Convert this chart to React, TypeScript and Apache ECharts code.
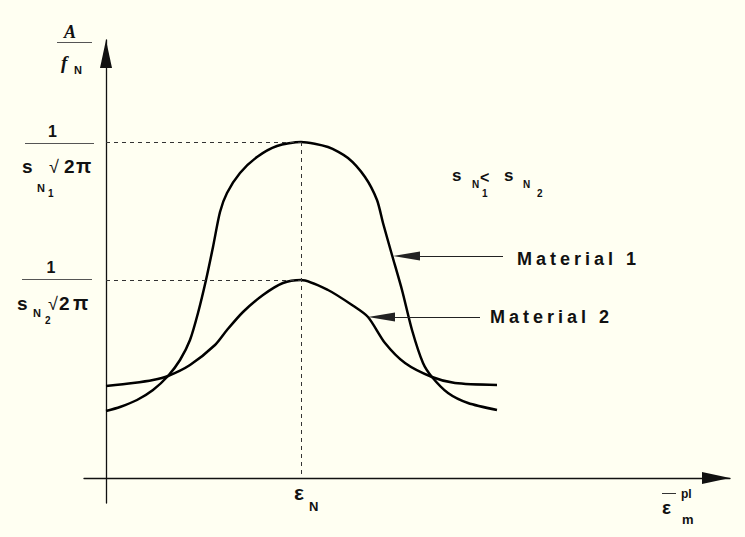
import React, { useEffect, useRef } from "react";
import * as echarts from "echarts";

// Material 1 curve (narrow distribution)
const material1X = [0, 1.4, 3.1, 4.7, 6.2, 7.4, 8.4, 9.2, 10.0, 10.7, 11.4, 12.1, 13.4, 15.1, 17.1, 19.5, 22.2, 24.2, 25.9, 27.1, 27.7, 28.6, 29.6, 30.6, 31.7, 32.6, 34.2, 36.2, 39.1];
const material1Y = [6.7, 7.1, 7.8, 8.8, 10.2, 11.8, 13.8, 16.5, 19.8, 23.1, 26.6, 28.5, 30.5, 32.1, 33.2, 33.6, 33.1, 32.0, 30.1, 27.8, 25.5, 22.3, 18.8, 14.8, 11.5, 10.1, 8.5, 7.5, 6.8];
// Material 2 curve (wide distribution)
const material2X = [0, 2.7, 4.7, 6.2, 8.4, 10.9, 12.1, 13.7, 15.7, 17.7, 19.5, 22.2, 24.6, 26.2, 27.9, 29.9, 32.6, 34.9, 39.1];
const material2Y = [9.2, 9.5, 9.8, 10.2, 11.3, 13.3, 14.8, 16.6, 18.3, 19.5, 19.8, 18.8, 17.3, 16.1, 13.5, 11.5, 10.1, 9.5, 9.3];

const peakStrain = 19.5;
const peakLevels = [33.6, 19.8];
const peakSubscripts = ["1", "2"];
const materialNames = ["Material 1", "Material 2"];
const arrowTipX = [28.7, 26.2];
const arrowTipY = [22.2, 16.1];
const arrowTailX = [39.7, 37.4];
const xRange = [-2.2, 62.4];
const yRange = [-2.5, 43.8];

const BG = "#fffff2";
const INK = "#111";
const SANS = '"Liberation Sans", Arial, Helvetica, sans-serif';
const SERIF = '"Liberation Serif", "Times New Roman", serif';

const zip = (xs: number[], ys: number[]) => xs.map((x, i) => [x, ys[i]]);

export default function App() {
  const ref = useRef<HTMLDivElement>(null);

  useEffect(() => {
    document.body.style.margin = "0";
    document.body.style.background = BG;
    const chart = echarts.init(ref.current as HTMLDivElement, null, { renderer: "svg" });

    const dashed = { type: [4, 4], color: "#333", width: 1 };
    const arrowLine = { type: "solid", color: "#222", width: 1 };
    const headSize = [9, 27];
    const headHalf = 1.35;

    const axisCommon = {
      type: "value",
      axisLine: {
        show: true,
        onZero: true,
        symbol: ["none", "triangle"],
        symbolSize: [12, 28],
        symbolOffset: [0, -14],
        lineStyle: { color: INK, width: 1.3 },
      },
      axisTick: { show: false },
      axisLabel: { show: false },
      splitLine: { show: false },
    };

    const seriesLine = (name: string, xs: number[], ys: number[], extraLines: any[]) => ({
      type: "line",
      name,
      data: zip(xs, ys),
      smooth: 0.25,
      symbol: "none",
      silent: true,
      lineStyle: { color: "#000", width: 2.5 },
      markLine: {
        silent: true,
        animation: false,
        symbol: ["none", "none"],
        label: { show: false },
        emphasis: { disabled: true },
        data: extraLines,
      },
    });

    const arrow = (i: number) => [
      { coord: [arrowTailX[i], arrowTipY[i]], lineStyle: arrowLine },
      { coord: [arrowTipX[i] + headHalf, arrowTipY[i]], symbol: "triangle", symbolSize: headSize },
    ];

    chart.setOption({
      animation: false,
      backgroundColor: BG,
      grid: { left: 84, right: 15, top: 40, bottom: 34, containLabel: false },
      xAxis: { ...axisCommon, min: xRange[0], max: xRange[1] },
      yAxis: { ...axisCommon, min: yRange[0], max: yRange[1] },
      series: [
        seriesLine(materialNames[0], material1X, material1Y, [
          [{ coord: [0, peakLevels[0]], lineStyle: dashed }, { coord: [peakStrain, peakLevels[0]] }],
          [{ coord: [peakStrain, peakLevels[0]], lineStyle: dashed }, { coord: [peakStrain, 0] }],
          arrow(0),
        ]),
        seriesLine(materialNames[1], material2X, material2Y, [
          [{ coord: [0, peakLevels[1]], lineStyle: dashed }, { coord: [peakStrain, peakLevels[1]] }],
          arrow(1),
        ]),
      ],
    });

    const toPx = (x: number, y: number) => chart.convertToPixel({ gridIndex: 0 }, [x, y]) as number[];
    const [A, Y0] = toPx(0, 0);
    const T = toPx(0, yRange[1])[1];
    const E = toPx(xRange[1], 0)[0];
    const X = toPx(peakStrain, 0)[0];

    const t = (text: string, x: number, base: number, size: number, o: any = {}) => ({
      type: "text",
      x,
      y: base - 0.35 * size,
      silent: true,
      style: {
        text,
        fontSize: size,
        fontWeight: o.weight ?? "bold",
        fontStyle: o.italic ? "italic" : "normal",
        fontFamily: o.family ?? SANS,
        fill: INK,
        align: o.align ?? "left",
        verticalAlign: "middle",
      },
    });
    const hl = (x1: number, x2: number, y: number, color = "#555") => ({
      type: "line",
      silent: true,
      shape: { x1, y1: Math.round(y) + 0.5, x2, y2: Math.round(y) + 0.5 },
      style: { stroke: color, lineWidth: 1 },
    });

    const fracLayout = [
      { one: [-53.5, -5], bar: [-81, -12, 1], s: [-84, 31], n: [-69, 50], sub: [-58, 55], root: [-57, 31], two: [-42, 31], pi: [-30, 31] },
      { one: [-55, -7], bar: [-84, -14, -1], s: [-89, 30], n: [-73, 37], sub: [-61, 44], root: [-58, 30], two: [-47, 30], pi: [-33, 30] },
    ];

    const elements: any[] = [];
    peakLevels.forEach((lvl, i) => {
      const P = toPx(0, lvl)[1];
      const L = fracLayout[i];
      elements.push(t("1", A + L.one[0], P + L.one[1], 16, { align: "center" }));
      elements.push(hl(A + L.bar[0], A + L.bar[1], P + L.bar[2]));
      elements.push(t("s", A + L.s[0], P + L.s[1], 19));
      elements.push(t("N", A + L.n[0], P + L.n[1], 11));
      elements.push(t(peakSubscripts[i], A + L.sub[0], P + L.sub[1], 10));
      elements.push(t("√", A + L.root[0], P + L.root[1], 18, { weight: "normal" }));
      elements.push(t("2", A + L.two[0], P + L.two[1], 19));
      elements.push(t("π", A + L.pi[0], P + L.pi[1], 20));
    });

    // A / f_N
    elements.push(t("A", A - 36, T - 2, 18, { family: SERIF, italic: true, align: "center" }));
    elements.push(hl(A - 49, A - 14, T + 2));
    elements.push(t("f", A - 45, T + 29, 19, { family: SERIF, italic: true }));
    elements.push(t("N", A - 32, T + 34, 11));

    // epsilon_N
    elements.push(t("ε", X - 7, Y0 + 22, 21));
    elements.push(t("N", X + 8, Y0 + 33, 13));

    // epsilon_m^pl with bar
    elements.push(hl(E - 68, E - 54, Y0 + 15, "#333"));
    elements.push(t("pl", E - 49, Y0 + 20, 12));
    elements.push(t("ε", E - 68, Y0 + 36, 19));
    elements.push(t("m", E - 48, Y0 + 46, 13));

    // s_N1 < s_N2
    const P1 = toPx(peakStrain, peakLevels[0])[1];
    elements.push(t("s", X + 151, P1 + 39, 17));
    elements.push(t("N", X + 171, P1 + 46, 10));
    elements.push(t("<", X + 179, P1 + 41, 16));
    elements.push(t(peakSubscripts[0], X + 181, P1 + 55, 10));
    elements.push(t("s", X + 203, P1 + 39, 17));
    elements.push(t("N", X + 222, P1 + 46, 10));
    elements.push(t(peakSubscripts[1], X + 236, P1 + 55, 10));

    // Material labels
    const labelDX = [14, 10];
    const labelDB = [9, 6];
    materialNames.forEach((name, i) => {
      const [tx, ty] = toPx(arrowTailX[i], arrowTipY[i]);
      elements.push(t(name, tx + labelDX[i], ty + labelDB[i], 18));
    });

    chart.setOption({ graphic: elements });

    // widen letter spacing of material labels (as in the original drawing)
    const root = ref.current as HTMLDivElement;
    root.querySelectorAll("text").forEach((el) => {
      if ((el.textContent || "").startsWith("Material")) el.setAttribute("letter-spacing", "4");
    });

    return () => chart.dispose();
  }, []);

  return (
    <div
      ref={ref}
      style={{ position: "fixed", left: 0, top: 0, width: 745, height: 537, background: BG }}
    />
  );
}
